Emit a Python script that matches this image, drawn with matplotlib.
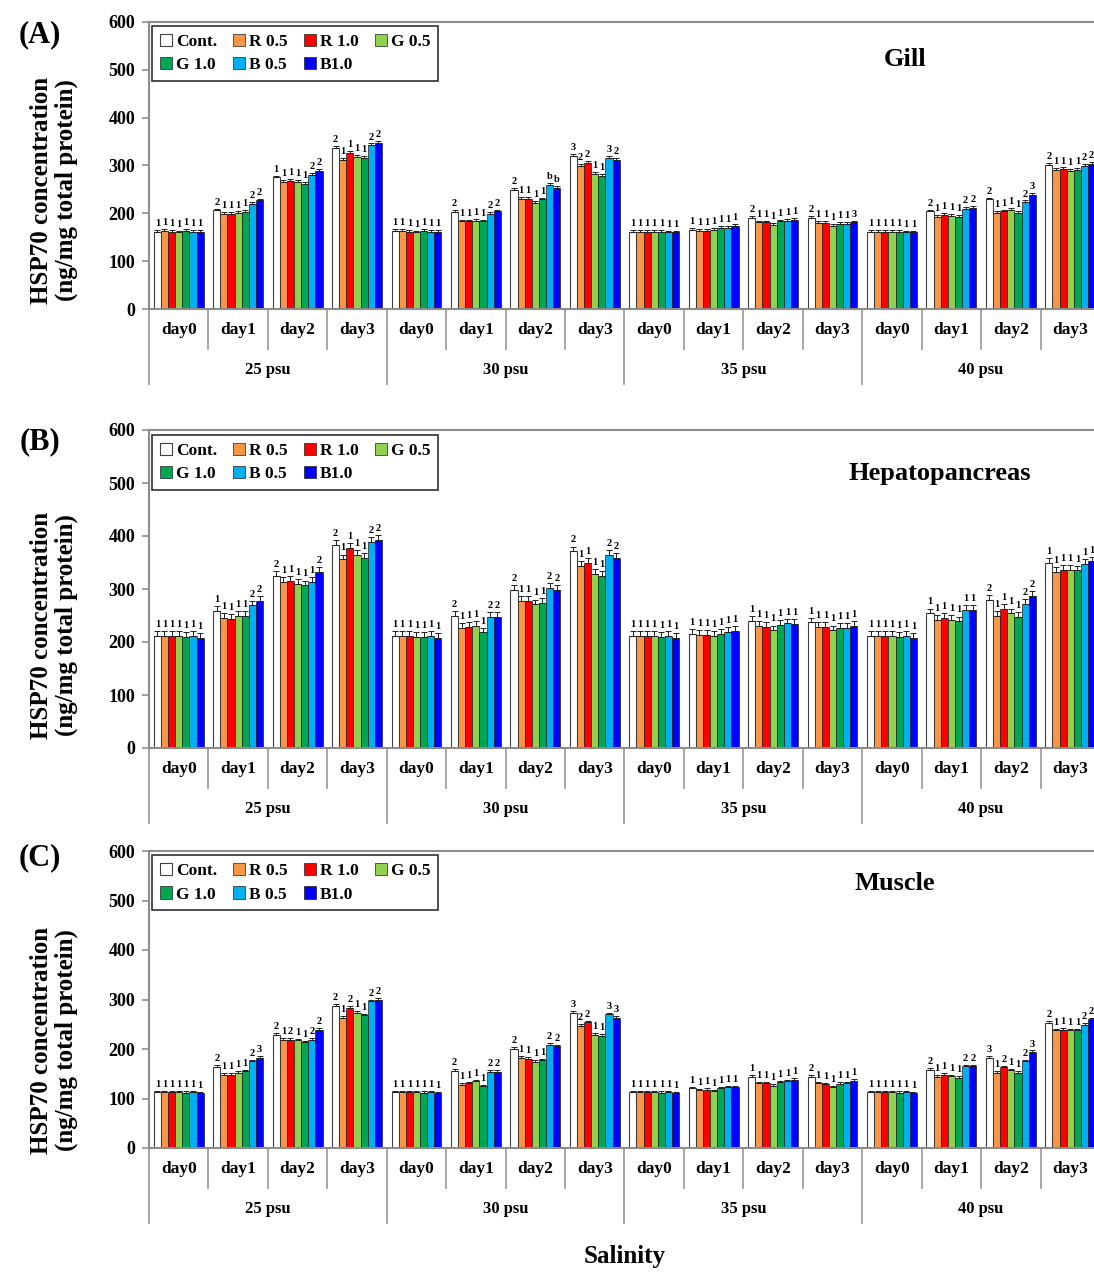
import numpy as np
import matplotlib.pyplot as plt
from matplotlib.transforms import blended_transform_factory

plt.rcParams['font.family'] = ['Liberation Serif', 'DejaVu Serif']
plt.rcParams['font.weight'] = 'bold'

treatments = ['Cont.', 'R 0.5', 'R 1.0', 'G 0.5', 'G 1.0', 'B 0.5', 'B1.0']
colors = ['white', '#F79646', '#FF0000', '#92D050', '#00A651', '#00B0F0', '#0000FF']
days = ['day0', 'day1', 'day2', 'day3']
salinity = ['25 psu', '30 psu', '35 psu', '40 psu']
tissues = ['Gill', 'Hepatopancreas', 'Muscle']
panel_tags = ['(A)', '(B)', '(C)']

# one row per salinity/day group (25 psu day0 ... 40 psu day3), one column per treatment
gill = [
    [162, 163, 161, 160, 163, 161, 161],
    [206, 199, 198, 200, 203, 219, 227],
    [275, 265, 268, 265, 262, 280, 289],
    [337, 312, 326, 318, 315, 342, 347],
    [163, 163, 161, 160, 163, 161, 161],
    [203, 183, 183, 185, 183, 199, 204],
    [249, 231, 231, 222, 229, 259, 254],
    [320, 299, 305, 282, 278, 315, 312],
    [162, 162, 161, 161, 162, 160, 160],
    [165, 164, 164, 166, 169, 169, 174],
    [190, 181, 181, 176, 183, 185, 187],
    [190, 180, 180, 173, 178, 178, 181],
    [162, 162, 161, 161, 162, 160, 160],
    [204, 192, 197, 194, 192, 209, 211],
    [229, 201, 204, 208, 201, 223, 239],
    [301, 291, 292, 289, 291, 299, 303],
]
hepato = [
    [211, 211, 211, 211, 209, 211, 208],
    [258, 246, 244, 249, 249, 269, 277],
    [325, 314, 316, 310, 307, 314, 333],
    [383, 356, 377, 364, 358, 389, 392],
    [211, 211, 211, 210, 209, 211, 208],
    [250, 227, 229, 231, 218, 247, 248],
    [299, 277, 277, 271, 274, 302, 299],
    [371, 344, 349, 328, 325, 364, 358],
    [211, 211, 211, 211, 209, 211, 208],
    [216, 214, 214, 211, 216, 219, 221],
    [240, 230, 229, 222, 233, 235, 234],
    [237, 228, 229, 222, 227, 227, 231],
    [211, 211, 211, 211, 209, 211, 208],
    [254, 242, 246, 242, 239, 260, 260],
    [279, 249, 262, 254, 247, 272, 287],
    [349, 333, 336, 336, 335, 347, 352],
]
muscle = [
    [113, 113, 113, 113, 112, 113, 111],
    [164, 148, 148, 152, 155, 175, 182],
    [229, 219, 219, 218, 214, 219, 239],
    [287, 263, 283, 273, 268, 297, 300],
    [113, 113, 113, 113, 112, 113, 111],
    [156, 128, 131, 135, 125, 154, 154],
    [201, 182, 180, 174, 177, 209, 206],
    [273, 247, 254, 229, 227, 270, 263],
    [113, 113, 113, 113, 112, 113, 111],
    [121, 117, 118, 115, 121, 123, 123],
    [144, 131, 131, 126, 133, 135, 138],
    [144, 131, 129, 123, 130, 131, 136],
    [113, 113, 113, 113, 112, 113, 111],
    [158, 144, 148, 145, 142, 165, 165],
    [182, 152, 163, 157, 152, 175, 194],
    [253, 238, 239, 238, 238, 249, 260],
]
errors = [4, 9, 3]

gill_sig = ['1111111', '2111122', '1111122', '2111122', '1111111', '2111122', '21111bb', '3221132',
            '1111111', '1111111', '2111111', '2111113', '1111111', '2111122', '2111123', '2111122']
hepato_sig = ['1111111', '1111122', '2111112', '2111122', '1111111', '2111122', '2111122', '2111122',
              '1111111', '1111111', '1111111', '1111111', '1111111', '1111111', '2111122', '1111111']
muscle_sig = ['1111111', '2111123', '2121122', '2121122', '1111111', '2111122', '2111122', '3221133',
              '1111111', '1111111', '1111111', '2111111', '1111111', '2111122', '3121123', '2111122']

data = [gill, hepato, muscle]
sigs = [gill_sig, hepato_sig, muscle_sig]

W, H = 1094, 1274
fig = plt.figure(figsize=(W / 100, H / 100), dpi=100)

left_px, right_px = 149, 1100
# (top of axis at 600, zero line) in pixels
panel_px = [(22, 309), (430, 748), (851, 1148)]
title_pos = [(0.795, 0.868), (0.832, 0.862), (0.784, 0.889)]
tag_y = [35, 442, 858]
ylab_y = [190, 625, 1040]

bw = 0.12
ngroups = len(days) * len(salinity)
gx = np.arange(ngroups)

for p in range(3):
    top, zero = panel_px[p]
    ax = fig.add_axes([left_px / W, 1 - zero / H, (right_px - left_px) / W, (zero - top) / H])
    ax_h = zero - top
    vals = np.array(data[p]).T
    for j, name in enumerate(treatments):
        x = gx + (j - 3) * bw
        ec = '#404040' if j == 0 else '#202020'
        ax.bar(x, vals[j], bw, color=colors[j], edgecolor=ec, linewidth=0.8 if j == 0 else 0.5,
               label=name, zorder=2)
        ax.errorbar(x, vals[j], yerr=[np.zeros(ngroups), np.full(ngroups, errors[p])],
                    fmt='none', ecolor='#202020', elinewidth=0.7, capsize=2.2, capthick=0.7, zorder=3)
        for g in range(ngroups):
            ax.text(x[g], vals[j][g] + errors[p] + 4, sigs[p][g][j], ha='center', va='bottom',
                    fontsize=7.5, fontweight='bold', zorder=4)

    ax.set_xlim(-0.5, ngroups - 0.5)
    ax.set_ylim(0, 600)
    ax.set_yticks(range(0, 601, 100))
    ax.tick_params(axis='y', direction='out', length=5, width=1.2, color='#909090',
                   labelsize=13, pad=5)
    ax.set_xticks([])
    for lab in ax.get_yticklabels():
        lab.set_fontweight('bold')
    ax.spines['right'].set_visible(False)
    for s in ['left', 'top', 'bottom']:
        ax.spines[s].set_color('#8C8C8C')
        ax.spines[s].set_linewidth(1.5)

    # category axis: day labels, psu labels and separators
    tr = blended_transform_factory(ax.transData, ax.transAxes)
    day_sep = 40 / ax_h
    psu_sep = 75 / ax_h
    for g in range(ngroups + 1):
        xb = g - 0.5
        d = psu_sep if g % 4 == 0 else day_sep
        ax.plot([xb, xb], [0, -d], transform=tr, color='#A0A0A0', lw=1.3, clip_on=False)
    for g in range(ngroups):
        ax.text(g, -21 / ax_h, days[g % 4], transform=tr, ha='center', va='center',
                fontsize=12.5, fontweight='bold')
    for s in range(len(salinity)):
        ax.text(4 * s + 1.5, -61 / ax_h, salinity[s], transform=tr, ha='center', va='center',
                fontsize=12, fontweight='bold')

    ax.text(title_pos[p][0], title_pos[p][1], tissues[p], transform=ax.transAxes,
            ha='center', va='center', fontsize=19, fontweight='bold')

    handles, labels = ax.get_legend_handles_labels()
    order = [0, 4, 1, 5, 2, 6, 3]
    leg = ax.legend([handles[i] for i in order], [labels[i] for i in order], ncol=4,
                    loc='upper left', bbox_to_anchor=(0.003, 0.985), borderaxespad=0,
                    fancybox=False, edgecolor='#303030', framealpha=1,
                    handlelength=0.7, handleheight=0.7, handletextpad=0.25,
                    columnspacing=0.9, labelspacing=0.4, borderpad=0.45,
                    prop={'weight': 'bold', 'size': 12.5})
    leg.get_frame().set_linewidth(1.2)
    leg.set_zorder(5)

    fig.text(40 / W, 1 - tag_y[p] / H, panel_tags[p], ha='center', va='center',
             fontsize=22, fontweight='bold')
    fig.text(54 / W, 1 - ylab_y[p] / H, 'HSP70 concentration\n(ng/mg total protein)',
             rotation=90, ha='center', va='center', multialignment='center',
             fontsize=18, fontweight='bold', linespacing=1.05)

fig.text(625 / W, 1 - 1257 / H, 'Salinity', ha='center', va='center', fontsize=18,
         fontweight='bold')

fig.savefig('out.png', dpi=100)
